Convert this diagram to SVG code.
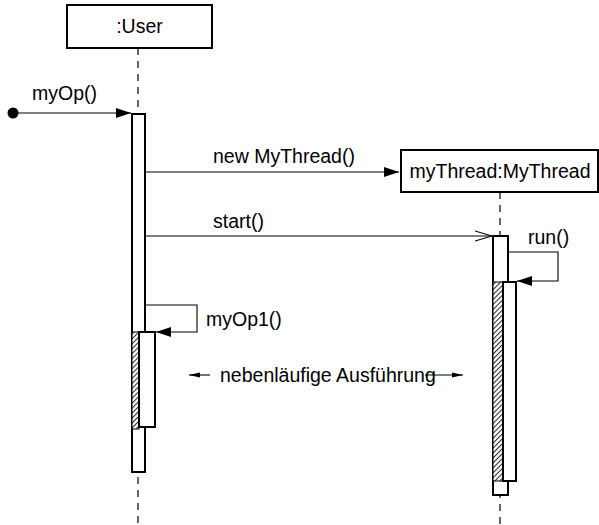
<svg xmlns="http://www.w3.org/2000/svg" width="599" height="525" viewBox="0 0 599 525">
<style>
text{font-family:"Liberation Sans",Arial,sans-serif;font-size:19.5px;fill:#000}
.box{fill:#fff;stroke:#000;stroke-width:2}
.life{stroke:#000;stroke-width:1.2;stroke-dasharray:7,6;fill:none}
.act{fill:#fff;stroke:#000;stroke-width:2}
.hatch{fill:url(#hp);stroke:#000;stroke-width:1}
.msg{stroke:#000;stroke-width:1.1;fill:none}
</style>
<defs>
<pattern id="hp" width="3.5" height="3.5" patternUnits="userSpaceOnUse" patternTransform="rotate(45)">
<rect width="3.5" height="3.5" fill="#fff"/>
<line x1="0" y1="0" x2="0" y2="3.5" stroke="#222" stroke-width="2"/>
</pattern>
<marker id="fa" markerWidth="16" markerHeight="12" refX="15" refY="6" orient="auto" markerUnits="userSpaceOnUse">
<path d="M0,1 L15,6 L0,11 z" fill="#000"/>
</marker>
<marker id="oa" markerWidth="18" markerHeight="12" refX="17" refY="6" orient="auto" markerUnits="userSpaceOnUse">
<path d="M0,1 L17,6 L0,11" fill="none" stroke="#000" stroke-width="1.1"/>
</marker>
<marker id="sa" markerWidth="12" markerHeight="8" refX="11" refY="4" orient="auto" markerUnits="userSpaceOnUse">
<path d="M0,1.5 L11,4 L0,6.5 z" fill="#000"/>
</marker>
</defs>
<g id="lifelines">
<line class="life" x1="138" y1="48" x2="138" y2="525"/>
<line class="life" x1="500" y1="192" x2="500" y2="525"/>
</g>
<g id="user">
<rect class="box" x="67" y="5" width="145" height="43"/>
<text x="139.5" y="33" text-anchor="middle">:User</text>
</g>
<g id="mythread">
<rect class="box" x="401" y="150" width="197" height="42"/>
<text x="500" y="178" text-anchor="middle">myThread:MyThread</text>
</g>
<g id="user-activation">
<rect class="act" x="132" y="114" width="13" height="358"/>
<rect class="hatch" x="132" y="332" width="7" height="97"/>
<rect class="act" x="139" y="332" width="16" height="95"/>
</g>
<g id="thread-activation">
<rect class="act" x="493" y="236" width="15" height="259"/>
<rect class="hatch" x="493" y="282" width="10" height="199"/>
<rect class="act" x="503" y="282" width="13" height="199"/>
</g>
<g id="connectors">
<circle cx="13" cy="113" r="5.5" fill="#000"/>
<line class="msg" x1="13" y1="113" x2="131" y2="113" marker-end="url(#fa)"/>
<line class="msg" x1="146" y1="172" x2="399" y2="172" marker-end="url(#fa)"/>
<line class="msg" x1="146" y1="236" x2="492" y2="236" marker-end="url(#oa)"/>
<polyline class="msg" points="509,252 558,252 558,281 517,281" marker-end="url(#fa)"/>
<polyline class="msg" points="146,305 197,305 197,332 156,332" marker-end="url(#fa)"/>
<line class="msg" x1="210" y1="375" x2="189" y2="375" marker-end="url(#sa)"/>
<line class="msg" x1="425" y1="375" x2="463" y2="375" marker-end="url(#sa)"/>
</g>
<g id="labels">
<text x="32" y="100">myOp()</text>
<text x="213" y="163">new MyThread()</text>
<text x="213" y="228">start()</text>
<text x="528" y="244">run()</text>
<text x="206" y="326">myOp1()</text>
<text x="220" y="382">nebenläufige Ausführung</text>
</g>
</svg>
